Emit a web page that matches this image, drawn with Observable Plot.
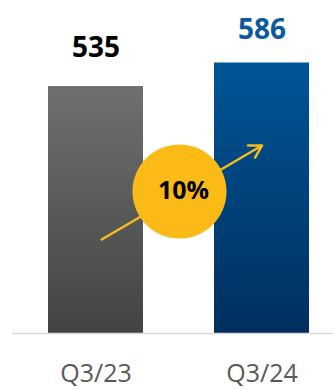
<!DOCTYPE html>
<html>
<head>
<meta charset="utf-8">
<script src="https://cdn.jsdelivr.net/npm/d3@7"></script>
<script src="https://cdn.jsdelivr.net/npm/@observablehq/plot@0.6"></script>
<style>
  html, body { margin: 0; padding: 0; background: #ffffff; }
  #chart svg { display: block; }
</style>
</head>
<body>
<div id="chart"></div>
<script>
// ---- data ----
const categories = ["Q3/23", "Q3/24"];
const values = [535, 586];
const valueColors = ["#000000", "#0b5a9c"];
const gradientIds = ["gradGrey", "gradBlue"];
const growthLabel = "10%";

const data = categories.map((c, i) => ({
  cat: c, value: values[i], color: valueColors[i], grad: `url(#${gradientIds[i]})`
}));

// ---- layout ----
const W = 333, H = 389;
const xRange = [47, 310];
const padInner = 0.425;
const step = (xRange[1] - xRange[0]) / (categories.length - padInner);
const meanValue = d3.mean(values);
const font = "'Open Sans', 'Noto Sans', sans-serif";

// gradient defs mark
function gradientDefs() {
  const defs = d3.create("svg:defs");
  const specs = [
    {id: gradientIds[0], top: "#6f6f71", bottom: "#434343"},
    {id: gradientIds[1], top: "#005596", bottom: "#002f5f"}
  ];
  for (const s of specs) {
    const g = defs.append("linearGradient").attr("id", s.id)
      .attr("x1", 0).attr("y1", 0).attr("x2", 0).attr("y2", 1);
    g.append("stop").attr("offset", "0%").attr("stop-color", s.top);
    g.append("stop").attr("offset", "100%").attr("stop-color", s.bottom);
  }
  return defs.node();
}

const chart = Plot.plot({
  width: W,
  height: H,
  margin: 0,
  style: {fontFamily: font, background: "#ffffff"},
  x: {domain: categories, range: xRange, paddingInner: padInner, paddingOuter: 0, axis: null},
  y: {domain: [0, d3.max(values)], range: [333, 62.5], axis: null},
  color: {type: "identity"},
  marks: [
    gradientDefs,
    Plot.barY(data, {x: "cat", y: "value", fill: "grad"}),
    Plot.ruleY([0], {stroke: "#d9d9d9", strokeWidth: 1.5, insetLeft: 12}),
    // value labels
    Plot.text(data.slice(0, 1), {
      x: "cat", y: "value", text: d => String(d.value), fill: "color",
      dy: -39, fontSize: 28, fontWeight: "bold", lineAnchor: "middle"
    }),
    Plot.text(data.slice(1), {
      x: "cat", y: "value", text: d => String(d.value), fill: "color",
      dy: -33, fontSize: 28, fontWeight: "bold", lineAnchor: "middle"
    }),
    // category labels
    Plot.text(data, {
      x: "cat", y: () => 0, text: "cat", fill: "#595959",
      dy: 40, fontSize: 25, lineAnchor: "middle"
    }),
    // growth arrow
    Plot.arrow([0], {
      x1: () => categories[0], y1: () => values[0] * 0.367,
      x2: () => categories[1], y2: () => values[1] * 0.695,
      stroke: "#f6bd1c", strokeWidth: 2.5, headLength: 8.4, headAngle: 60,
      insetStart: 6.6
    }),
    // growth bubble
    Plot.dot([0], {
      x: () => categories[0], y: () => meanValue * 0.549,
      dx: step / 2, r: 47, fill: "#fbba16", stroke: "none"
    }),
    Plot.text([growthLabel], {
      x: () => categories[0], y: () => meanValue * 0.549,
      dx: step / 2 + 4, text: d => d, fill: "#000000",
      fontSize: 25, fontWeight: "bold", lineAnchor: "middle"
    })
  ]
});

document.getElementById("chart").appendChild(chart);
</script>
</body>
</html>
